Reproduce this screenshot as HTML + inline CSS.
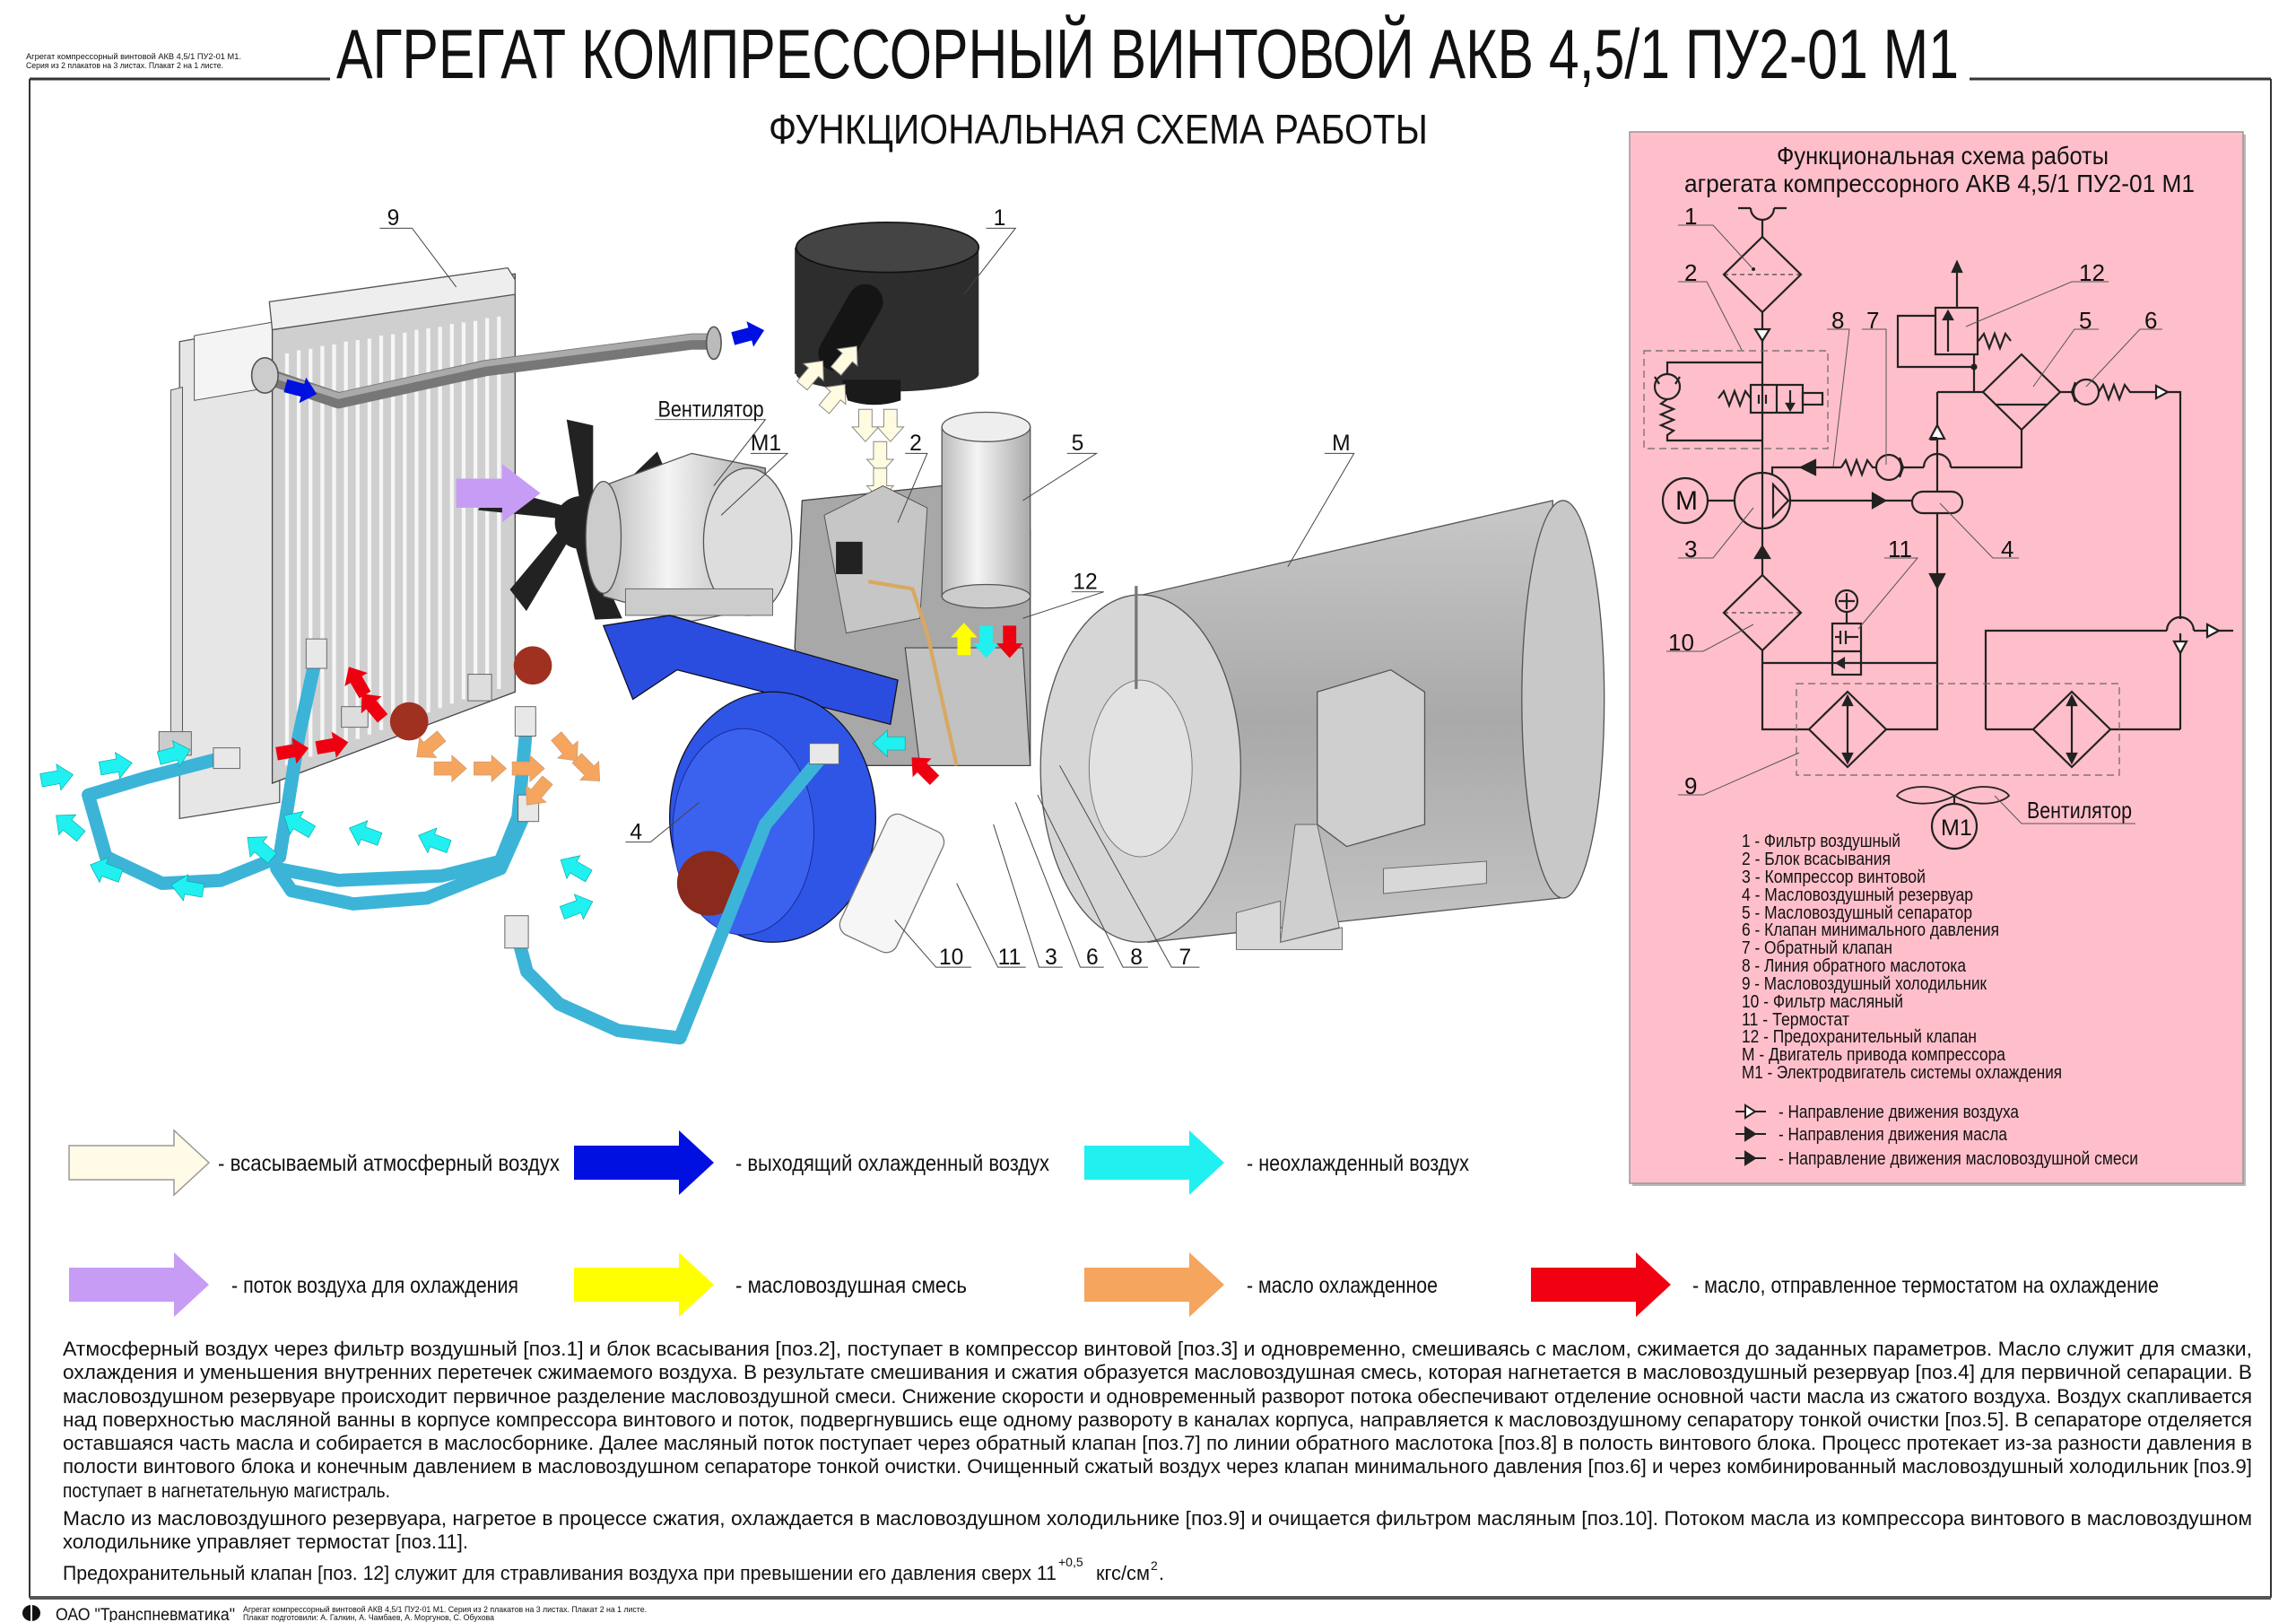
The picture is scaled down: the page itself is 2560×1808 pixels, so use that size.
<!DOCTYPE html>
<html><head><meta charset="utf-8"><style>
html,body{margin:0;padding:0;background:#fff}
svg{display:block}
text{font-family:"Liberation Sans Narrow","Liberation Sans","DejaVu Sans",sans-serif;fill:#111}
</style></head><body>
<svg width="2560" height="1808" viewBox="0 0 2560 1808" xmlns="http://www.w3.org/2000/svg">
<defs>
<path id="a" d="M0,-4.5 L12,-4.5 L12,-9 L22,0 L12,9 L12,4.5 L0,4.5 Z"/>
<linearGradient id="gm" x1="0" y1="0" x2="0" y2="1"><stop offset="0" stop-color="#c8c8c8"/><stop offset=".5" stop-color="#a9a9a9"/><stop offset="1" stop-color="#c4c4c4"/></linearGradient>
<linearGradient id="gs" x1="0" y1="0" x2="1" y2="0"><stop offset="0" stop-color="#bbb"/><stop offset=".4" stop-color="#f4f4f4"/><stop offset="1" stop-color="#aaa"/></linearGradient>
</defs>
<rect width="2560" height="1808" fill="#fff"/>
<g stroke="#333" fill="none">
<line x1="33" y1="88" x2="368" y2="88" stroke-width="3"/>
<line x1="2196" y1="88" x2="2532" y2="88" stroke-width="3"/>
<line x1="33" y1="88" x2="33" y2="1781" stroke-width="2"/>
<line x1="2532" y1="88" x2="2532" y2="1781" stroke-width="2"/>
<line x1="33" y1="1781" x2="2532" y2="1781" stroke-width="4" stroke="#555"/>
</g>
<text x="29" y="66" font-size="9" textLength="240" lengthAdjust="spacingAndGlyphs">Агрегат компрессорный винтовой АКВ 4,5/1 ПУ2-01 М1.</text>
<text x="29" y="76" font-size="9" textLength="220" lengthAdjust="spacingAndGlyphs">Серия из 2 плакатов на 3 листах. Плакат 2 на 1 листе.</text>
<text x="375" y="87" font-size="78" textLength="1809" lengthAdjust="spacingAndGlyphs">АГРЕГАТ КОМПРЕССОРНЫЙ ВИНТОВОЙ АКВ 4,5/1 ПУ2-01 М1</text>
<text x="857" y="160" font-size="46" textLength="735" lengthAdjust="spacingAndGlyphs">ФУНКЦИОНАЛЬНАЯ СХЕМА РАБОТЫ</text>

<g transform="scale(1.641)">
<polygon points="122,232 190,220 190,545 122,556" fill="#e6e6e6" stroke="#555" stroke-width=".8"/>
<polygon points="116,265 124,263 124,505 116,507" fill="#ddd" stroke="#555" stroke-width=".6"/>
<polygon points="132,228 190,218 190,262 132,272" fill="#f4f4f4" stroke="#555" stroke-width=".6"/>
<polygon points="185,212 350,186 350,470 185,532" fill="#cfcfcf" stroke="#444" stroke-width=".8"/>
<g stroke="#f6f6f6" stroke-width="2.6">
<line x1="195" y1="240" x2="195" y2="520"/><line x1="203" y1="238" x2="203" y2="517"/><line x1="211" y1="237" x2="211" y2="514"/><line x1="219" y1="235" x2="219" y2="511"/><line x1="227" y1="234" x2="227" y2="508"/><line x1="235" y1="232" x2="235" y2="505"/><line x1="243" y1="231" x2="243" y2="502"/><line x1="251" y1="230" x2="251" y2="499"/><line x1="259" y1="228" x2="259" y2="496"/><line x1="267" y1="227" x2="267" y2="493"/><line x1="275" y1="226" x2="275" y2="490"/><line x1="283" y1="224" x2="283" y2="487"/><line x1="291" y1="223" x2="291" y2="484"/><line x1="299" y1="222" x2="299" y2="481"/><line x1="307" y1="220" x2="307" y2="478"/><line x1="315" y1="219" x2="315" y2="475"/><line x1="323" y1="218" x2="323" y2="472"/><line x1="331" y1="216" x2="331" y2="470"/><line x1="339" y1="215" x2="339" y2="468"/>
</g>
<polygon points="183,205 345,182 350,190 350,200 185,224" fill="#eee" stroke="#555" stroke-width=".8"/>
<polyline points="180,255 230,272 330,250 470,232 490,232" fill="none" stroke="#777" stroke-width="11" stroke-linejoin="round"/>
<polyline points="180,253 230,269 330,247 470,229 490,229" fill="none" stroke="#aaa" stroke-width="4"/>
<ellipse cx="180" cy="255" rx="9" ry="12" fill="#ccc" stroke="#555"/>
<ellipse cx="485" cy="233" rx="5" ry="11" fill="#bbb" stroke="#555"/>
<use href="#a" transform="translate(498,230) rotate(-15)" fill="#0010e0"/>
<use href="#a" transform="translate(194,262) rotate(15)" fill="#0010e0"/>
<rect x="540" y="168" width="125" height="86" fill="#2d2d2d"/>
<ellipse cx="603" cy="168" rx="62" ry="17" fill="#444" stroke="#111"/>
<ellipse cx="603" cy="254" rx="62" ry="12" fill="#2d2d2d"/>
<path d="M572,258 L612,258 L612,272 Q594,278 576,272 Z" fill="#1a1a1a"/>
<path d="M568,240 L588,205" stroke="#151515" stroke-width="24" stroke-linecap="round"/>
<g fill="#fffbe0" stroke="#888" stroke-width=".6">
<use href="#a" transform="translate(545,262) rotate(-50)"/><use href="#a" transform="translate(560,278) rotate(-50)"/><use href="#a" transform="translate(568,252) rotate(-50)"/>
<use href="#a" transform="translate(588,278) rotate(90)"/><use href="#a" transform="translate(605,278) rotate(90)"/><use href="#a" transform="translate(598,300) rotate(90)"/><use href="#a" transform="translate(598,318) rotate(90)"/>
</g>
<g fill="#222" transform="translate(395,355)">
<path d="M0,-8 L-10,-70 L8,-66 L8,-8Z"/>
<path d="M0,-8 L-10,-70 L8,-66 L8,-8Z" transform="rotate(55)"/>
<path d="M0,-8 L-10,-70 L8,-66 L8,-8Z" transform="rotate(110)"/>
<path d="M0,-8 L-10,-70 L8,-66 L8,-8Z" transform="rotate(165)"/>
<path d="M0,-8 L-10,-70 L8,-66 L8,-8Z" transform="rotate(220)"/>
<path d="M0,-8 L-10,-70 L8,-66 L8,-8Z" transform="rotate(285)"/>
<circle r="18"/>
</g>
<polygon points="410,330 470,308 520,318 520,412 470,422 410,405" fill="url(#gs)" stroke="#555" stroke-width=".8"/>
<ellipse cx="508" cy="368" rx="30" ry="50" fill="#ddd" stroke="#555" stroke-width=".8"/>
<ellipse cx="410" cy="365" rx="12" ry="38" fill="#ccc" stroke="#555" stroke-width=".8"/>
<rect x="425" y="400" width="100" height="18" fill="#ccc" stroke="#666" stroke-width=".6"/>
<use href="#a" transform="translate(310,335) scale(2.6,2.2)" fill="#c79cf5"/>
<polygon points="545,340 640,330 700,360 700,520 560,520 540,440" fill="#a8a8a8" stroke="#444" stroke-width=".8"/>
<polygon points="560,350 600,330 630,345 625,420 575,430" fill="#c6c6c6" stroke="#555" stroke-width=".6"/>
<rect x="568" y="368" width="18" height="22" fill="#222"/>
<polygon points="615,440 695,440 700,520 625,520" fill="#c2c2c2" stroke="#444" stroke-width=".7"/>
<polyline points="590,395 620,400 630,430 650,520" fill="none" stroke="#d9a860" stroke-width="2.5"/>
<use href="#a" transform="translate(655,445) rotate(-90)" fill="#ffff00"/>
<use href="#a" transform="translate(670,425) rotate(90)" fill="#20f0f0"/>
<use href="#a" transform="translate(686,425) rotate(90)" fill="#ee0010"/>
<rect x="640" y="290" width="60" height="115" fill="url(#gs)" stroke="#555" stroke-width=".8"/>
<ellipse cx="670" cy="290" rx="30" ry="10" fill="#eee" stroke="#555" stroke-width=".8"/>
<ellipse cx="670" cy="405" rx="30" ry="8" fill="#ccc" stroke="#555" stroke-width=".8"/>
<polygon points="410,425 455,418 610,462 605,492 460,455 430,475" fill="#2a4de0" stroke="#112" stroke-width=".8"/>
<ellipse cx="525" cy="555" rx="70" ry="85" fill="#2f55e6" stroke="#112" stroke-width=".8"/>
<ellipse cx="505" cy="565" rx="48" ry="70" fill="#3a62ee" stroke="#1a2a9a" stroke-width=".6"/>
<circle cx="482" cy="600" r="22" fill="#8a2a1c"/>
<ellipse cx="735" cy="535" rx="28" ry="36" fill="#1a1a1a"/>
<rect x="740" y="515" width="30" height="42" fill="#222"/>
<rect x="585" y="555" width="42" height="90" rx="8" fill="#f6f6f6" stroke="#777" stroke-width=".8" transform="rotate(25 606 600)"/>
<polygon points="772,405 1055,340 1060,610 780,640" fill="url(#gm)" stroke="#555" stroke-width=".8"/>
<ellipse cx="1062" cy="475" rx="28" ry="135" fill="#c8c8c8" stroke="#555" stroke-width=".8"/>
<ellipse cx="775" cy="522" rx="68" ry="118" fill="#d6d6d6" stroke="#555" stroke-width=".8"/>
<ellipse cx="775" cy="522" rx="35" ry="60" fill="#e2e2e2" stroke="#777" stroke-width=".6"/>
<line x1="772" y1="398" x2="772" y2="468" stroke="#777" stroke-width="2"/>
<polygon points="895,470 945,455 968,470 968,560 915,575 895,560" fill="#cfcfcf" stroke="#555" stroke-width=".8"/>
<polygon points="840,620 870,612 870,640 912,630 912,645 840,645" fill="#d8d8d8" stroke="#666" stroke-width=".6"/>
<polygon points="940,590 1010,585 1010,600 940,607" fill="#d8d8d8" stroke="#666" stroke-width=".6"/>
<polygon points="880,560 895,560 910,630 870,640" fill="#cfcfcf" stroke="#666" stroke-width=".6"/>
<circle cx="278" cy="490" r="13" fill="#a03020"/>
<circle cx="362" cy="452" r="13" fill="#a03020"/>
<rect x="232" y="480" width="18" height="14" fill="#ddd" stroke="#666" stroke-width=".6"/>
<rect x="318" y="458" width="16" height="18" fill="#ddd" stroke="#666" stroke-width=".6"/>
<rect x="108" y="497" width="22" height="16" fill="#ccc" stroke="#666" stroke-width=".6"/>
<g fill="none" stroke="#3cb4d8" stroke-width="9" stroke-linecap="round" stroke-linejoin="round">
<polyline points="150,515 100,528 60,540 72,582 110,600 150,598 190,582 203,500 215,445"/>
<polyline points="358,490 352,555 340,585 300,595 230,598 188,590 198,605 240,614 290,610 340,590 360,545"/>
<polyline points="560,512 520,560 500,610 482,655 462,705 420,700 380,682 358,660 350,630"/>
</g>
<g fill="#e8e8e8" stroke="#666" stroke-width=".6">
<rect x="145" y="508" width="18" height="14"/><rect x="208" y="434" width="14" height="20"/><rect x="350" y="480" width="14" height="20"/><rect x="352" y="540" width="14" height="18"/><rect x="550" y="505" width="20" height="14"/><rect x="343" y="622" width="16" height="22"/>
</g>
<g fill="#20f0f0" stroke="#0aa" stroke-width=".4">
<use href="#a" transform="translate(28,530) rotate(-10)"/><use href="#a" transform="translate(68,522) rotate(-10)"/><use href="#a" transform="translate(108,515) rotate(-15)"/>
<use href="#a" transform="translate(55,568) rotate(-140)"/><use href="#a" transform="translate(82,595) rotate(-160)"/><use href="#a" transform="translate(138,605) rotate(-170)"/>
<use href="#a" transform="translate(185,583) rotate(-140)"/><use href="#a" transform="translate(212,565) rotate(-150)"/><use href="#a" transform="translate(258,570) rotate(-160)"/><use href="#a" transform="translate(305,575) rotate(-160)"/>
<use href="#a" transform="translate(400,595) rotate(-150)"/><use href="#a" transform="translate(382,620) rotate(-20)"/><use href="#a" transform="translate(615,505) rotate(180)"/>
</g>
<g fill="#f5a55e" stroke="#c97" stroke-width=".4">
<use href="#a" transform="translate(300,500) rotate(140)"/><use href="#a" transform="translate(295,522)"/><use href="#a" transform="translate(322,522)"/><use href="#a" transform="translate(348,522)"/>
<use href="#a" transform="translate(378,500) rotate(50)"/><use href="#a" transform="translate(392,515) rotate(45)"/><use href="#a" transform="translate(372,530) rotate(130)"/>
</g>
<g fill="#ee0010">
<use href="#a" transform="translate(188,512) rotate(-10)"/><use href="#a" transform="translate(215,508) rotate(-10)"/>
<use href="#a" transform="translate(260,488) rotate(-130)"/><use href="#a" transform="translate(248,472) rotate(-120)"/>
<use href="#a" transform="translate(635,530) rotate(-135)"/>
</g>
<g stroke="#444" stroke-width=".6" fill="none">
<polyline points="258,155 280,155 310,195"/><polyline points="670,155 690,155 655,200"/>
<polyline points="445,285 520,285 485,330"/><polyline points="510,308 535,308 490,350"/>
<polyline points="615,308 630,308 610,355"/><polyline points="725,308 745,308 695,340"/>
<polyline points="900,308 920,308 875,385"/><polyline points="728,402 750,402 695,420"/>
<polyline points="425,572 442,572 475,545"/>
<polyline points="660,657 636,657 608,625"/><polyline points="697,657 678,657 650,600"/><polyline points="722,657 706,657 675,560"/>
<polyline points="750,657 734,657 690,545"/><polyline points="780,657 763,657 705,540"/><polyline points="815,657 796,657 720,520"/>
</g>
<g font-size="15">
<text x="263" y="153">9</text><text x="675" y="153">1</text>
<text x="447" y="283" textLength="72" lengthAdjust="spacingAndGlyphs">Вентилятор</text>
<text x="510" y="306">М1</text><text x="618" y="306">2</text><text x="728" y="306">5</text><text x="905" y="306">М</text>
<text x="729" y="400">12</text><text x="428" y="570">4</text>
<text x="638" y="655">10</text><text x="678" y="655">11</text><text x="710" y="655">3</text><text x="738" y="655">6</text><text x="768" y="655">8</text><text x="801" y="655">7</text>
</g>
</g>

<g stroke-width="1.5">
<path d="M77,1277 H194 V1260 L233,1296 L194,1332 V1315 H77 Z" fill="#fffbe6" stroke="#999"/>
<path d="M640,1277 H757 V1260 L796,1296 L757,1332 V1315 H640 Z" fill="#0010e0"/>
<path d="M1209,1277 H1326 V1260 L1365,1296 L1326,1332 V1315 H1209 Z" fill="#20f0f0"/>
<path d="M77,1413 H194 V1396 L233,1432 L194,1468 V1451 H77 Z" fill="#c79cf5"/>
<path d="M640,1413 H757 V1396 L796,1432 L757,1468 V1451 H640 Z" fill="#ffff00"/>
<path d="M1209,1413 H1326 V1396 L1365,1432 L1326,1468 V1451 H1209 Z" fill="#f5a55e"/>
<path d="M1707,1413 H1824 V1396 L1863,1432 L1824,1468 V1451 H1707 Z" fill="#f00010"/>
</g>
<g font-size="25">
<text x="243" y="1305" textLength="381" lengthAdjust="spacingAndGlyphs">- всасываемый атмосферный воздух</text>
<text x="820" y="1305" textLength="350" lengthAdjust="spacingAndGlyphs">- выходящий охлажденный воздух</text>
<text x="1390" y="1305" textLength="248" lengthAdjust="spacingAndGlyphs">- неохлажденный воздух</text>
<text x="258" y="1441" textLength="320" lengthAdjust="spacingAndGlyphs">- поток воздуха для охлаждения</text>
<text x="820" y="1441" textLength="258" lengthAdjust="spacingAndGlyphs">- масловоздушная смесь</text>
<text x="1390" y="1441" textLength="213" lengthAdjust="spacingAndGlyphs">- масло охлажденное</text>
<text x="1887" y="1441" textLength="520" lengthAdjust="spacingAndGlyphs">- масло, отправленное термостатом на охлаждение</text>
</g>

<g font-size="22">
<text x="70" y="1511" textLength="2441" lengthAdjust="spacingAndGlyphs">Атмосферный воздух через фильтр воздушный [поз.1] и блок всасывания [поз.2], поступает в компрессор винтовой [поз.3] и одновременно, смешиваясь с маслом, сжимается до заданных параметров. Масло служит для смазки,</text>
<text x="70" y="1537" textLength="2441" lengthAdjust="spacingAndGlyphs">охлаждения и уменьшения внутренних перетечек сжимаемого воздуха. В результате смешивания и сжатия образуется масловоздушная смесь, которая нагнетается в масловоздушный резервуар [поз.4] для первичной сепарации. В</text>
<text x="70" y="1564" textLength="2441" lengthAdjust="spacingAndGlyphs">масловоздушном резервуаре происходит первичное разделение масловоздушной смеси. Снижение скорости и одновременный разворот потока обеспечивают отделение основной части масла из сжатого воздуха. Воздух скапливается</text>
<text x="70" y="1590" textLength="2441" lengthAdjust="spacingAndGlyphs">над поверхностью масляной ванны в корпусе компрессора винтового и поток, подвергнувшись еще одному развороту в каналах корпуса, направляется к масловоздушному сепаратору тонкой очистки [поз.5]. В сепараторе отделяется</text>
<text x="70" y="1616" textLength="2441" lengthAdjust="spacingAndGlyphs">оставшаяся часть масла и  собирается в маслосборнике. Далее масляный поток поступает через обратный клапан [поз.7] по линии обратного маслотока [поз.8] в полость винтового блока. Процесс протекает из-за разности давления в</text>
<text x="70" y="1642" textLength="2441" lengthAdjust="spacingAndGlyphs">полости винтового блока и конечным давлением в масловоздушном сепараторе тонкой очистки. Очищенный сжатый воздух через клапан минимального давления [поз.6] и через комбинированный масловоздушный холодильник [поз.9]</text>
<text x="70" y="1669" textLength="365" lengthAdjust="spacingAndGlyphs">поступает в нагнетательную магистраль.</text>
<text x="70" y="1700" textLength="2441" lengthAdjust="spacingAndGlyphs">Масло из масловоздушного резервуара, нагретое в процессе сжатия, охлаждается в масловоздушном холодильнике [поз.9] и очищается фильтром масляным [поз.10]. Потоком масла из компрессора винтового в масловоздушном</text>
<text x="70" y="1726" textLength="452" lengthAdjust="spacingAndGlyphs">холодильнике  управляет термостат [поз.11].</text>
<text x="70" y="1761" textLength="1108" lengthAdjust="spacingAndGlyphs">Предохранительный клапан [поз. 12] служит для стравливания воздуха при превышении его давления сверх 11</text>
<text x="1180" y="1746" font-size="14">+0,5</text>
<text x="1222" y="1761" textLength="60" lengthAdjust="spacingAndGlyphs">кгс/см</text>
<text x="1283" y="1750" font-size="14">2</text>
<text x="1292" y="1761">.</text>
</g>

<ellipse cx="35" cy="1798" rx="10" ry="9" fill="#111"/>
<line x1="35" y1="1789" x2="35" y2="1808" stroke="#fff" stroke-width="2"/>
<text x="62" y="1806" font-size="19" textLength="200" lengthAdjust="spacingAndGlyphs">ОАО "Транспневматика"</text>
<text x="271" y="1797" font-size="9" textLength="450" lengthAdjust="spacingAndGlyphs">Агрегат компрессорный винтовой АКВ 4,5/1 ПУ2-01 М1. Серия из 2 плакатов на 3 листах. Плакат 2 на 1 листе.</text>
<text x="271" y="1806" font-size="9" textLength="280" lengthAdjust="spacingAndGlyphs">Плакат подготовили: А. Галкин, А. Чамбаев, А. Моргунов, С. Обухова</text>

<rect x="1820" y="150" width="684" height="1172" fill="#b8b8b8"/>
<rect x="1817" y="147" width="684" height="1172" fill="#ffbfca" stroke="#999" stroke-width="1.5"/>
<text x="1981" y="183" font-size="28" textLength="370" lengthAdjust="spacingAndGlyphs">Функциональная схема работы</text>
<text x="1878" y="214" font-size="28" textLength="569" lengthAdjust="spacingAndGlyphs">агрегата компрессорного АКВ 4,5/1 ПУ2-01 М1</text>
<g stroke="#222" stroke-width="2.2" fill="none">
<path d="M1938,232 H1952 M1978,232 H1992 M1952,232 A13,13 0 0 0 1978,232"/>
<line x1="1965" y1="245" x2="1965" y2="264"/>
<polygon points="1965,264 2008,306 1965,348 1922,306"/>
<line x1="1922" y1="306" x2="2008" y2="306" stroke-dasharray="5,4" stroke-width="1"/>
<line x1="1965" y1="348" x2="1965" y2="589"/>
<polygon points="1957,367 1973,367 1965,380" fill="#fff"/>
<rect x="1833" y="391" width="205" height="109" stroke-dasharray="8,5" stroke-width="1.2" stroke="#666"/>
<polyline points="1965,404 1859,404 1859,417"/>
<circle cx="1859" cy="431" r="14"/>
<path d="M1845,420 L1850,428 M1873,420 L1868,428"/>
<polyline points="1859,445 1852,450 1866,456 1852,462 1866,468 1852,474 1866,480 1859,485 1859,491 1965,491"/>
<rect x="1952" y="429" width="58" height="31"/>
<line x1="1981" y1="429" x2="1981" y2="460"/>
<line x1="1961" y1="440" x2="1961" y2="450"/><line x1="1969" y1="440" x2="1969" y2="450"/>
<line x1="1996" y1="435" x2="1996" y2="455"/><polygon points="1992,450 2000,450 1996,457" fill="#222"/>
<rect x="2010" y="438" width="22" height="13"/>
<polyline points="1952,444 1946,436 1940,452 1934,436 1928,452 1922,436 1916,444"/>
<circle cx="1965" cy="558" r="31"/>
<polygon points="1977,540 1994,558 1977,576"/>
<circle cx="1879" cy="558" r="25"/>
<line x1="1904" y1="558" x2="1934" y2="558"/>
<line x1="1996" y1="558" x2="2132" y2="558"/>
<polygon points="2088,550 2102,558 2088,566" fill="#222"/>
<rect x="2132" y="548" width="56" height="24" rx="12"/>
<polyline points="1976,530 1976,521 2053,521"/>
<polygon points="2024,513 2024,529 2008,521" fill="#222"/>
<polyline points="2053,521 2058,513 2064,529 2070,513 2076,529 2082,513 2088,521 2092,521"/>
<circle cx="2106" cy="521" r="14"/>
<path d="M2118,510 L2122,521 L2118,532"/>
<line x1="2120" y1="521" x2="2145" y2="521"/>
<path d="M2145,521 A15,15 0 0 1 2175,521"/>
<polyline points="2175,521 2254,521 2254,479"/>
<line x1="2160" y1="548" x2="2160" y2="437"/>
<polygon points="2152,489 2168,489 2160,474" fill="#fff"/>
<line x1="2152" y1="489" x2="2160" y2="489" stroke-width="4"/>
<line x1="2160" y1="437" x2="2211" y2="437"/>
<polygon points="2254,395 2297,437 2254,479 2211,437"/>
<line x1="2226" y1="451" x2="2282" y2="451"/>
<line x1="2201" y1="437" x2="2201" y2="395"/>
<rect x="2158" y="343" width="47" height="52"/>
<line x1="2172" y1="392" x2="2172" y2="350"/><polygon points="2167,356 2177,356 2172,347" fill="#222"/>
<polyline points="2158,352 2116,352 2116,409 2201,409"/>
<circle cx="2201" cy="409" r="2.5" fill="#222"/>
<line x1="2182" y1="343" x2="2182" y2="300"/><polygon points="2177,303 2187,303 2182,292" fill="#222"/>
<polyline points="2206,380 2212,372 2218,388 2224,372 2230,388 2236,372 2242,380"/>
<line x1="2297" y1="437" x2="2312" y2="437"/>
<circle cx="2326" cy="437" r="14"/>
<path d="M2314,426 L2310,437 L2314,448"/>
<polyline points="2340,437 2345,429 2351,445 2357,429 2363,445 2369,429 2375,437 2404,437"/>
<polygon points="2404,430 2417,437 2404,444" fill="#fff"/>
<polyline points="2417,437 2431,437 2431,690"/>
<line x1="2431" y1="706" x2="2431" y2="813"/>
<polygon points="2424,715 2438,715 2431,728" fill="#fff"/>
<polyline points="2214,813 2214,703 2416,703"/>
<path d="M2416,703 A15,15 0 0 1 2446,703"/>
<line x1="2446" y1="703" x2="2490" y2="703"/>
<polygon points="2461,696 2474,703 2461,710" fill="#fff"/>
<polyline points="2431,813 2353,813"/>
<line x1="2214" y1="813" x2="2267" y2="813"/>
<polygon points="2310,771 2353,813 2310,855 2267,813"/>
<line x1="2310" y1="778" x2="2310" y2="848"/>
<polygon points="2305,786 2315,786 2310,776" fill="#222"/><polygon points="2305,840 2315,840 2310,850" fill="#222"/>
<polygon points="2060,771 2103,813 2060,855 2017,813"/>
<line x1="2060" y1="778" x2="2060" y2="848"/>
<polygon points="2055,786 2065,786 2060,776" fill="#222"/><polygon points="2055,840 2065,840 2060,850" fill="#222"/>
<polyline points="2017,813 1965,813 1965,725"/>
<polyline points="2103,813 2160,813 2160,572"/>
<polygon points="2152,640 2168,640 2160,655" fill="#222"/>
<line x1="1965" y1="739" x2="2160" y2="739"/>
<rect x="2003" y="762" width="360" height="102" stroke-dasharray="8,5" stroke-width="1.2" stroke="#666"/>
<polygon points="1965,641 2008,683 1965,725 1922,683"/>
<line x1="1922" y1="683" x2="2008" y2="683" stroke-dasharray="5,4" stroke-width="1"/>
<line x1="1965" y1="641" x2="1965" y2="589"/>
<polygon points="1957,622 1973,622 1965,609" fill="#222"/>
<rect x="2043" y="695" width="32" height="57" fill="#ffbfca"/>
<line x1="2043" y1="726" x2="2075" y2="726"/>
<line x1="2052" y1="703" x2="2052" y2="718"/><line x1="2058" y1="703" x2="2058" y2="718"/>
<line x1="2046" y1="710" x2="2052" y2="710"/><line x1="2058" y1="710" x2="2072" y2="710"/>
<line x1="2043" y1="739" x2="2075" y2="739"/><polygon points="2048,739 2056,734 2056,744" fill="#222"/>
<line x1="2059" y1="695" x2="2059" y2="682"/>
<circle cx="2059" cy="670" r="12"/><line x1="2059" y1="661" x2="2059" y2="679"/><line x1="2050" y1="670" x2="2068" y2="670"/>
<path d="M2179,887 C2150,870 2120,878 2115,887 C2125,897 2155,900 2179,887 C2205,870 2235,878 2240,887 C2230,897 2200,900 2179,887Z" stroke-width="1.8"/>
<line x1="2179" y1="887" x2="2179" y2="895"/>
<circle cx="2179" cy="921" r="25"/>
</g>
<circle cx="1955" cy="300" r="2" fill="#222"/>
<g stroke="#555" stroke-width="1" fill="none">
<polyline points="1871,251 1910,251 1953,298"/>
<polyline points="1871,314 1903,314 1942,390"/>
<polyline points="2037,367 2062,367 2044,520"/>
<polyline points="2076,367 2103,367 2103,518"/>
<polyline points="2351,314 2310,314 2192,364"/>
<polyline points="2340,367 2313,367 2267,431"/>
<polyline points="2411,367 2386,367 2326,431"/>
<polyline points="1871,622 1910,622 1955,566"/>
<polyline points="2251,622 2222,622 2163,561"/>
<polyline points="2101,622 2138,622 2072,701"/>
<polyline points="1858,726 1899,726 1955,696"/>
<polyline points="1871,886 1899,886 2006,839"/>
<polyline points="2381,918 2254,918 2224,887"/>
</g>
<g font-size="26">
<text x="1878" y="250">1</text><text x="1878" y="313">2</text>
<text x="2042" y="366">8</text><text x="2081" y="366">7</text>
<text x="2318" y="313">12</text><text x="2318" y="366">5</text><text x="2391" y="366">6</text>
<text x="1878" y="621">3</text><text x="2231" y="621">4</text><text x="2105" y="621">11</text>
<text x="1860" y="725">10</text><text x="1878" y="885">9</text>
<text x="1868" y="568" font-size="30">М</text>
<text x="2164" y="931" font-size="25">М1</text>
<text x="2260" y="912" font-size="26" textLength="117" lengthAdjust="spacingAndGlyphs">Вентилятор</text>
</g>
<g font-size="20">
<text x="1942" y="944" textLength="177" lengthAdjust="spacingAndGlyphs">1 - Фильтр воздушный</text>
<text x="1942" y="964" textLength="166" lengthAdjust="spacingAndGlyphs">2 - Блок всасывания</text>
<text x="1942" y="984" textLength="205" lengthAdjust="spacingAndGlyphs">3 - Компрессор винтовой</text>
<text x="1942" y="1004" textLength="258" lengthAdjust="spacingAndGlyphs">4 - Масловоздушный резервуар</text>
<text x="1942" y="1024" textLength="257" lengthAdjust="spacingAndGlyphs">5 - Масловоздушный сепаратор</text>
<text x="1942" y="1043" textLength="287" lengthAdjust="spacingAndGlyphs">6 - Клапан минимального давления</text>
<text x="1942" y="1063" textLength="168" lengthAdjust="spacingAndGlyphs">7 - Обратный клапан</text>
<text x="1942" y="1083" textLength="250" lengthAdjust="spacingAndGlyphs">8 - Линия обратного маслотока</text>
<text x="1942" y="1103" textLength="273" lengthAdjust="spacingAndGlyphs">9 - Масловоздушный холодильник</text>
<text x="1942" y="1123" textLength="180" lengthAdjust="spacingAndGlyphs">10 - Фильтр масляный</text>
<text x="1942" y="1143" textLength="120" lengthAdjust="spacingAndGlyphs">11 - Термостат</text>
<text x="1942" y="1162" textLength="262" lengthAdjust="spacingAndGlyphs">12 - Предохранительный клапан</text>
<text x="1942" y="1182" textLength="294" lengthAdjust="spacingAndGlyphs">М - Двигатель привода компрессора</text>
<text x="1942" y="1202" textLength="357" lengthAdjust="spacingAndGlyphs">М1 - Электродвигатель системы охлаждения</text>
<text x="1983" y="1246" textLength="268" lengthAdjust="spacingAndGlyphs">- Направление движения воздуха</text>
<text x="1983" y="1271" textLength="255" lengthAdjust="spacingAndGlyphs">- Направления движения масла</text>
<text x="1983" y="1298" textLength="401" lengthAdjust="spacingAndGlyphs">- Направление движения масловоздушной смеси</text>
</g>
<g stroke="#222" stroke-width="2">
<line x1="1935" y1="1239" x2="1969" y2="1239"/><polygon points="1946,1232 1957,1239 1946,1246" fill="#fff"/>
<line x1="1935" y1="1264" x2="1969" y2="1264"/><polygon points="1946,1257 1957,1264 1946,1271" fill="#222"/>
<line x1="1935" y1="1291" x2="1969" y2="1291"/><polygon points="1946,1284 1957,1291 1946,1298" fill="#222"/>
</g>
</svg>
</body></html>
